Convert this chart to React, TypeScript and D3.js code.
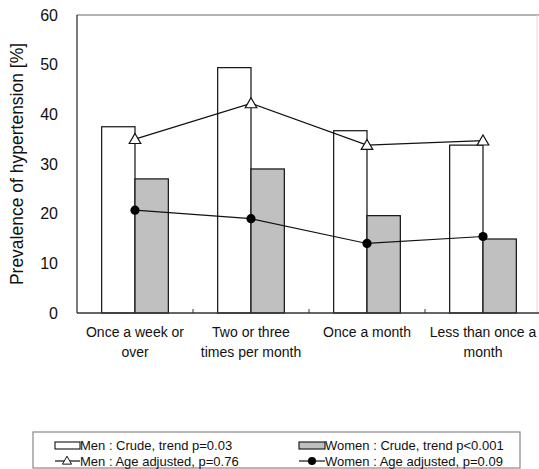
import React from "react";
import * as d3 from "d3";

const categories = [
  ["Once a week or", "over"],
  ["Two or three", "times per month"],
  ["Once a month"],
  ["Less than once a", "month"],
];
const menCrude = [37.5, 49.4, 36.7, 33.8];
const womenCrude = [27.0, 29.0, 19.6, 14.9];
const menAdjusted = [35.0, 42.2, 33.8, 34.7];
const womenAdjusted = [20.7, 19.0, 14.0, 15.4];
const yTicks = [0, 10, 20, 30, 40, 50, 60];

const W = 539;
const H = 469;
const left = 77;
const right = 541;
const top = 15;
const bottom = 313;
const font = "'Liberation Sans', Arial, sans-serif";

export default function App() {
  const keys = categories.map((c, i) => String(i));
  const x = d3.scaleBand().domain(keys).range([left, right]);
  // two bars per group, ~25px gap on each side
  const bars = d3.scaleBand().domain(["men", "women"]).range([0, x.bandwidth()]).paddingInner(0).paddingOuter(0.74);
  const y = d3.scaleLinear().domain([0, 60]).range([bottom, top]);
  const cx = (i) => x(String(i)) + x.bandwidth() / 2;

  const line = d3.line().x((d, i) => cx(i)).y((d) => y(d));
  const tri = d3.symbol(d3.symbolTriangle, 58)();

  return (
    <svg width={W} height={H} style={{ position: "absolute", left: 0, top: 0, background: "#fff" }}>
      {/* frame */}
      <line x1={left} x2={W} y1={top} y2={top} stroke="#999" strokeWidth={1.3} />
      <line x1={537} x2={537} y1={top} y2={bottom} stroke="#ddd" strokeWidth={1} />

      {/* bars */}
      {menCrude.map((v, i) => (
        <rect key={"m" + i} x={x(String(i)) + bars("men")} y={y(v)} width={bars.bandwidth()} height={bottom - y(v)}
          fill="#fff" stroke="#111" strokeWidth={1.2} />
      ))}
      {womenCrude.map((v, i) => (
        <rect key={"w" + i} x={x(String(i)) + bars("women")} y={y(v)} width={bars.bandwidth()} height={bottom - y(v)}
          fill="#c0c0c0" stroke="#111" strokeWidth={1.2} />
      ))}

      {/* axes */}
      <line x1={left} x2={left} y1={top} y2={bottom} stroke="#333" strokeWidth={1.3} />
      <line x1={left} x2={W} y1={bottom} y2={bottom} stroke="#333" strokeWidth={1.3} />
      {keys.slice(1).map((k) => (
        <line key={k} x1={x(k)} x2={x(k)} y1={bottom} y2={bottom - 4} stroke="#333" strokeWidth={1} />
      ))}
      {yTicks.map((t) => (
        <text key={t} x={58} y={y(t)} dy="0.36em" textAnchor="end" fontFamily={font} fontSize={16} fill="#111">{t}</text>
      ))}
      <text transform={`translate(23,${(top + bottom) / 2}) rotate(-90)`} textAnchor="middle" fontFamily={font} fontSize={17.5} fill="#111">
        Prevalence of hypertension [%]
      </text>
      {categories.map((lines, i) => (
        <text key={i} x={cx(i)} y={332} textAnchor="middle" fontFamily={font} fontSize={14} fill="#111">
          {lines.map((l, j) => (
            <tspan key={j} x={cx(i)} dy={j === 0 ? "0.36em" : 20}>{l}</tspan>
          ))}
        </text>
      ))}

      {/* lines */}
      <path d={line(menAdjusted)} fill="none" stroke="#111" strokeWidth={1.2} />
      <path d={line(womenAdjusted)} fill="none" stroke="#111" strokeWidth={1.2} />
      {menAdjusted.map((v, i) => (
        <path key={"ma" + i} d={tri} transform={`translate(${cx(i)},${y(v) + 1})`} fill="#fff" stroke="#111" strokeWidth={1.2} />
      ))}
      {womenAdjusted.map((v, i) => (
        <circle key={"wa" + i} cx={cx(i)} cy={y(v)} r={4.6} fill="#000" />
      ))}

      {/* legend */}
      <rect x={33} y={432} width={487} height={36} fill="#fff" stroke="#888" strokeWidth={1.2} />
      <rect x={55} y={442} width={25} height={7} fill="#fff" stroke="#111" strokeWidth={1.1} />
      <text x={80} y={445.5} dy="0.36em" fontFamily={font} fontSize={13} fill="#111">Men : Crude, trend p=0.03</text>
      <rect x={299} y={442} width={26} height={7} fill="#c0c0c0" stroke="#111" strokeWidth={1.1} />
      <text x={325} y={445.5} dy="0.36em" fontFamily={font} fontSize={13} fill="#111">Women : Crude, trend p&lt;0.001</text>
      <line x1={55} x2={80} y1={461} y2={461} stroke="#111" strokeWidth={1.2} />
      <path d={d3.symbol(d3.symbolTriangle, 36)()} transform="translate(67,461.5)" fill="#fff" stroke="#111" strokeWidth={1} />
      <text x={80} y={461} dy="0.36em" fontFamily={font} fontSize={13} fill="#111">Men : Age adjusted, p=0.76</text>
      <line x1={299} x2={325} y1={461} y2={461} stroke="#111" strokeWidth={1.2} />
      <circle cx={312} cy={461} r={4} fill="#000" />
      <text x={325} y={461} dy="0.36em" fontFamily={font} fontSize={13} fill="#111">Women : Age adjusted, p=0.09</text>
    </svg>
  );
}
